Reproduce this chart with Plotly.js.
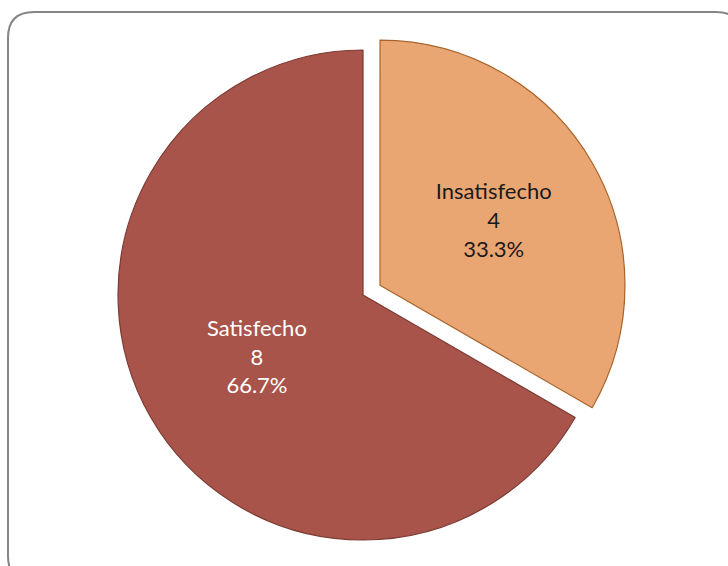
<!DOCTYPE html>
<html>
<head>
<meta charset="utf-8">
<script src="https://cdn.plot.ly/plotly-3.0.1.min.js"></script>
<style>html,body{margin:0;padding:0;background:#fff;}#chart{width:728px;height:566px;}svg text{font-variant-ligatures:none;}</style>
</head>
<body>
<div id="chart"></div>
<script>
var labels = ['Insatisfecho', 'Satisfecho'];
var values = [4, 8];
var pulls = [0.08, 0];
var sliceColors = ['#eaa672', '#a8544b'];
var lineColors = ['#a8642c', '#7c3a32'];
var textColors = ['#1a1a1a', '#ffffff'];

var W = 728, H = 566;
function px(x) { return x / W; }
function py(y) { return 1 - y / H; }
function roundedRect(x0, y0, x1, y1, r) {
  return 'M ' + px(x0 + r) + ',' + py(y0) +
    ' L ' + px(x1 - r) + ',' + py(y0) +
    ' Q ' + px(x1) + ',' + py(y0) + ' ' + px(x1) + ',' + py(y0 + r) +
    ' L ' + px(x1) + ',' + py(y1 - r) +
    ' Q ' + px(x1) + ',' + py(y1) + ' ' + px(x1 - r) + ',' + py(y1) +
    ' L ' + px(x0 + r) + ',' + py(y1) +
    ' Q ' + px(x0) + ',' + py(y1) + ' ' + px(x0) + ',' + py(y1 - r) +
    ' L ' + px(x0) + ',' + py(y0 + r) +
    ' Q ' + px(x0) + ',' + py(y0) + ' ' + px(x0 + r) + ',' + py(y0) + ' Z';
}

var trace = {
  type: 'pie',
  labels: labels,
  values: values,
  pull: pulls,
  sort: false,
  direction: 'clockwise',
  rotation: 0,
  textinfo: 'label+value+percent',
  textposition: 'inside',
  insidetextorientation: 'horizontal',
  insidetextfont: { family: 'Lato, "Open Sans", sans-serif', size: 22, color: textColors },
  marker: { colors: sliceColors, line: { color: lineColors, width: 1.2 } },
  domain: { x: [0.1352, 0.8621], y: [0.0113, 0.9463] },
  hoverinfo: 'label+value+percent',
  showlegend: false
};

var layout = {
  width: W, height: H,
  margin: { l: 0, r: 0, t: 0, b: 0 },
  paper_bgcolor: '#ffffff',
  showlegend: false,
  shapes: [{
    type: 'path', xref: 'paper', yref: 'paper',
    path: roundedRect(8, 12, 742, 582, 26),
    line: { color: '#858585', width: 2 },
    fillcolor: 'rgba(0,0,0,0)',
    layer: 'below'
  }]
};

Plotly.newPlot('chart', [trace], layout, { displayModeBar: false, staticPlot: true });
</script>
</body>
</html>
